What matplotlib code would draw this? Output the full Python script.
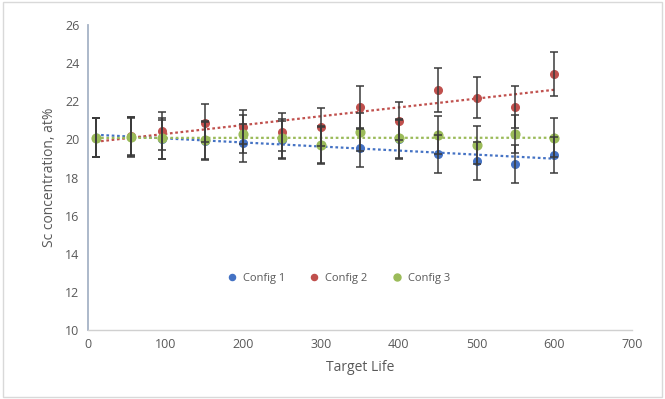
import numpy as np
import matplotlib.pyplot as plt
from matplotlib.patches import Rectangle

# Target life points and Sc concentration (at%) per configuration
target_life = [10, 55, 95, 150, 200, 250, 300, 350, 400, 450, 500, 550, 600]
config1 = [20.1, 20.15, 20.0, 19.9, 19.8, 19.95, 19.7, 19.55, 20.0, 19.25, 18.85, 18.7, 19.2]
config2 = [20.1, 20.2, 20.45, 20.85, 20.65, 20.4, 20.65, 21.7, 20.95, 22.6, 22.2, 21.7, 23.45]
config3 = [20.1, 20.15, 20.05, 19.95, 20.3, 20.05, 19.7, 20.4, 20.05, 20.25, 19.7, 20.3, 20.1]
err1 = [1.0, 1.0, 1.0, 1.0, 1.0, 1.0, 1.0, 1.0, 1.0, 1.0, 1.0, 1.0, 0.95]
err2 = [1.0, 1.0, 1.0, 1.0, 0.9, 1.0, 1.0, 1.1, 1.0, 1.15, 1.1, 1.1, 1.15]
err3 = [1.0, 1.05, 1.05, 1.0, 1.0, 1.0, 0.95, 1.0, 1.0, 1.0, 1.0, 1.0, 1.0]

series = [
    ("Config 1", config1, err1, "#4472C4", 5.5),
    ("Config 2", config2, err2, "#C0504D", 5.5),
    ("Config 3", config3, err3, "#9BBB59", 6.3),
]

plt.rcParams['font.family'] = ['Open Sans', 'DejaVu Sans']
text_col = "#595959"

fig = plt.figure(figsize=(6.65, 3.99), dpi=100)
ax = fig.add_axes([0.1323, 0.173, 0.818, 0.764])

# light border round the whole chart
fig.patches.append(Rectangle((0.004, 0.006), 0.992, 0.988, transform=fig.transFigure,
                             fill=False, edgecolor="#D9D9D9", lw=1))

x = np.array(target_life)
for name, vals, err, col, ms in series:
    # linear trendline
    k, b = np.polyfit(x, vals, 1)
    xt = np.array([x.min(), x.max()])
    ax.plot(xt, k * xt + b, linestyle=(0, (1.2, 1.2)), color=col, lw=1.6, zorder=2)
for name, vals, err, col, ms in series:
    ax.plot(x, vals, 'o', color=col, ms=ms, label=name, zorder=3)
for name, vals, err, col, ms in series:
    ax.errorbar(x, vals, yerr=err, fmt='none', ecolor="#3A3A3A", elinewidth=1.1,
                capsize=3, capthick=1.1, zorder=4)

ax.set_xlim(0, 700)
ax.set_ylim(10, 26)
ax.set_xticks(range(0, 701, 100))
ax.set_yticks(range(10, 27, 2))
ax.tick_params(length=0, labelsize=9, colors=text_col, pad=6)
for side in ["top", "right"]:
    ax.spines[side].set_visible(False)
ax.spines["left"].set_color("#A6B3C6")
ax.spines["left"].set_linewidth(1.3)
ax.spines["bottom"].set_color("#D0D0D0")
ax.spines["bottom"].set_linewidth(1.0)

ax.set_xlabel("Target Life", fontsize=10, color=text_col, labelpad=6)
ax.set_ylabel("Sc concentration, at%", fontsize=10, color=text_col, labelpad=6)

ax.legend(loc="center", bbox_to_anchor=(0.455, 0.17), ncol=3, frameon=False,
          fontsize=8, handletextpad=0.0, columnspacing=1.6, markerscale=0.8,
          labelcolor=text_col)

fig.savefig("out.png", dpi=100)
